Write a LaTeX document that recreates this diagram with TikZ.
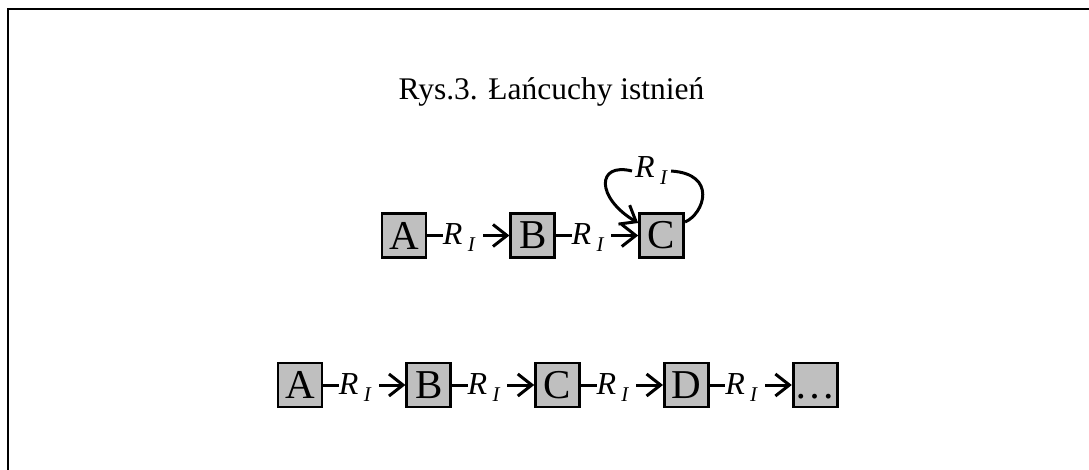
\documentclass[tikz,border=0pt]{standalone}
\usepackage{fontspec}
\setmainfont{Liberation Serif}
\usetikzlibrary{arrows.meta, positioning}
\tikzstyle{entity} = [rectangle, draw=black, line width=2.8pt, fill=gray!50, minimum width=44pt, minimum height=44pt, inner sep=0pt, font=\fontsize{41}{41}\selectfont]
\tikzstyle{arrow} = [line width=3pt, -{Straight Barb[length=14pt, width=22pt, line width=3pt]}]
\tikzstyle{link} = [line width=3pt]
\tikzstyle{rel} = [fill=white, inner sep=0pt, font=\fontsize{32}{32}\selectfont]
\newcommand{\relname}{\textit{R}\,\raisebox{-7pt}{\fontsize{21}{21}\selectfont\textit{I}}}

\begin{document}
\begin{tikzpicture}[x=1pt, y=-1pt, node distance=82pt]
    \useasboundingbox (0,0) rectangle (1089,470);
    \draw [line width=2.5pt] (1089,9) -- (8,9) -- (8,470);

    \node (title) [anchor=base, font=\fontsize{31.5}{31.5}\selectfont] at (551.5,100) {Rys.3. Łańcuchy istnień};

    % upper chain
    \node (a1) [entity] at (404,235.5) {A};
    \node (b1) [entity, right=of a1] {B};
    \node (c1) [entity, right=of b1] {C};

    \draw [arrow] (a1) -- node[rel, pos=0, anchor=base west, xshift=14pt, yshift=-9pt] {\relname\rule{7pt}{0pt}} (b1);
    \draw [arrow] (b1) -- node[rel, pos=0, anchor=base west, xshift=14pt, yshift=-9pt] {\relname\rule{7pt}{0pt}} (c1);

    \node (lp) [rel, anchor=base west, inner xsep=3pt] at (632,178) {\relname};
    \draw [link] ([yshift=13.5pt]c1.east) .. controls (704,214) and (718,174) .. (lp.east);
    \draw [arrow] (lp.west) .. controls (596,162) and (596,198) .. ([yshift=12.5pt]c1.west);

    % lower chain
    \node (a2) [entity] at (300,385) {A};
    \node (b2) [entity, right=of a2] {B};
    \node (c2) [entity, right=of b2] {C};
    \node (d2) [entity, right=of c2] {D};
    \node (e2) [entity, right=of d2] {\vphantom{A}\dots};

    \draw [arrow] (a2) -- node[rel, pos=0, anchor=base west, xshift=14pt, yshift=-9pt] {\relname\rule{7pt}{0pt}} (b2);
    \draw [arrow] (b2) -- node[rel, pos=0, anchor=base west, xshift=14pt, yshift=-9pt] {\relname\rule{7pt}{0pt}} (c2);
    \draw [arrow] (c2) -- node[rel, pos=0, anchor=base west, xshift=14pt, yshift=-9pt] {\relname\rule{7pt}{0pt}} (d2);
    \draw [arrow] (d2) -- node[rel, pos=0, anchor=base west, xshift=14pt, yshift=-9pt] {\relname\rule{7pt}{0pt}} (e2);
\end{tikzpicture}
\end{document}
